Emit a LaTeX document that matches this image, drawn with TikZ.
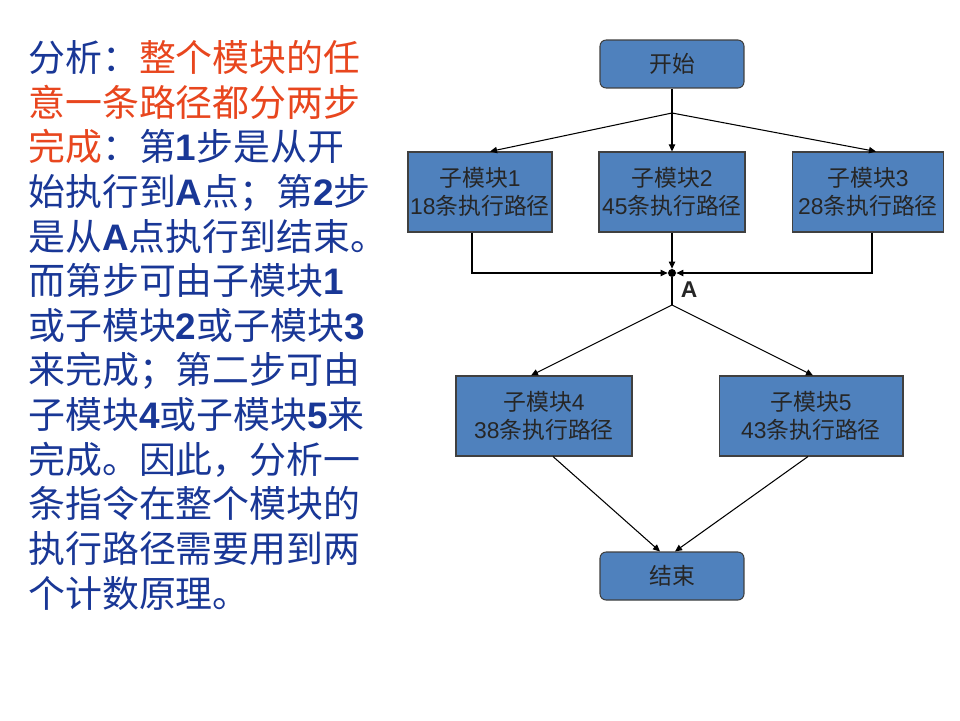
\documentclass[tikz,border=0pt]{standalone}
\usepackage{fontspec}
\setmainfont{Noto Sans CJK SC}
\newfontfamily\lat{Liberation Sans}
\usepackage{tikz}
\usetikzlibrary{arrows.meta, positioning, calc}
\definecolor{boxblue}{RGB}{79,129,189}
\definecolor{noteblue}{RGB}{25,55,150}
\definecolor{notered}{RGB}{232,70,30}
\newcommand{\bnum}[1]{{\lat\bfseries #1}}
\newcommand{\dg}[1]{{\lat #1}}

\begin{document}
\begin{tikzpicture}[x=0.02cm, y=-0.02cm,
  every node/.style={font=\fontsize{13}{16}\selectfont, text=black!85},
  module/.style={draw=black!75, fill=boxblue, line width=0.6pt, align=center,
                 minimum height=1.6cm, inner sep=1pt},
  terminal/.style={module, rounded corners=3.5pt, minimum height=0.96cm, minimum width=2.88cm},
  link/.style={line width=0.6pt},
  arr/.style={link, -{Triangle[length=4pt, width=3.6pt]}}]
  \useasboundingbox (0,0) rectangle (960,720);

  % Left note
  \node[anchor=north west, inner sep=0, align=left, text=noteblue,
        font=\fontsize{21}{25.4}\selectfont] (analysis) at (28,40)
    {分析：\textcolor{notered}{整个模块的任}\\
     \textcolor{notered}{意一条路径都分两步}\\
     \textcolor{notered}{完成}：第\bnum{1}步是从开\\
     始执行到\bnum{A}点；第\bnum{2}步\\
     是从\bnum{A}点执行到结束。\\
     而第步可由子模块\bnum{1}\\
     或子模块\bnum{2}或子模块\bnum{3}\\
     来完成；第二步可由\\
     子模块\bnum{4}或子模块\bnum{5}来\\
     完成。因此，分析一\\
     条指令在整个模块的\\
     执行路径需要用到两\\
     个计数原理。};

  % Flow chart nodes
  \node[terminal] (start) at (672,64) {开始};
  \node[module, minimum width=2.88cm] (sub1) at (480,192) {子模块\dg{1}\\\dg{18}条执行路径};
  \node[module, minimum width=2.92cm] (sub2) at (672,192) {子模块\dg{2}\\\dg{45}条执行路径};
  \node[module, minimum width=3.02cm] (sub3) at (868,192) {子模块\dg{3}\\\dg{28}条执行路径};
  \node[circle, fill=black, inner sep=0, minimum size=0.16cm] (A) at (672,273) {};
  \node[font=\fontsize{13}{16}\selectfont\lat\bfseries] (Alabel) at (689,290) {A};
  \node[module, minimum width=3.52cm] (sub4) at (544,416) {子模块\dg{4}\\\dg{38}条执行路径};
  \node[module, minimum width=3.68cm] (sub5) at (811,416) {子模块\dg{5}\\\dg{43}条执行路径};
  \node[terminal] (stop) at (672,576) {结束};

  % Branch points
  \coordinate (fork) at (672,113);
  \coordinate (c1) at (472,273);
  \coordinate (c3) at (872,273);
  \coordinate (fork2) at (672,305);

  % Connectors
  \draw[link] (start) -- (fork);
  \draw[arr] (fork) -- ($(sub1.north)+(10,0)$);
  \draw[arr] (fork) -- (sub2);
  \draw[arr] (fork) -- ($(sub3.north)+(8,0)$);
  \draw[arr] (sub1.south -| c1) |- (A);
  \draw[arr] (sub2) -- (A);
  \draw[arr] (sub3.south -| c3) |- (A);
  \draw[link] (A) -- (fork2);
  \draw[arr] (fork2) -- ($(sub4.north)+(-13,0)$);
  \draw[arr] (fork2) -- ($(sub5.north)+(2,0)$);
  \draw[arr] ($(sub4.south)+(9,0)$) -- ($(stop.north)+(-12,0)$);
  \draw[arr] ($(sub5.south)+(-3,0)$) -- ($(stop.north)+(3,0)$);
\end{tikzpicture}
\end{document}
